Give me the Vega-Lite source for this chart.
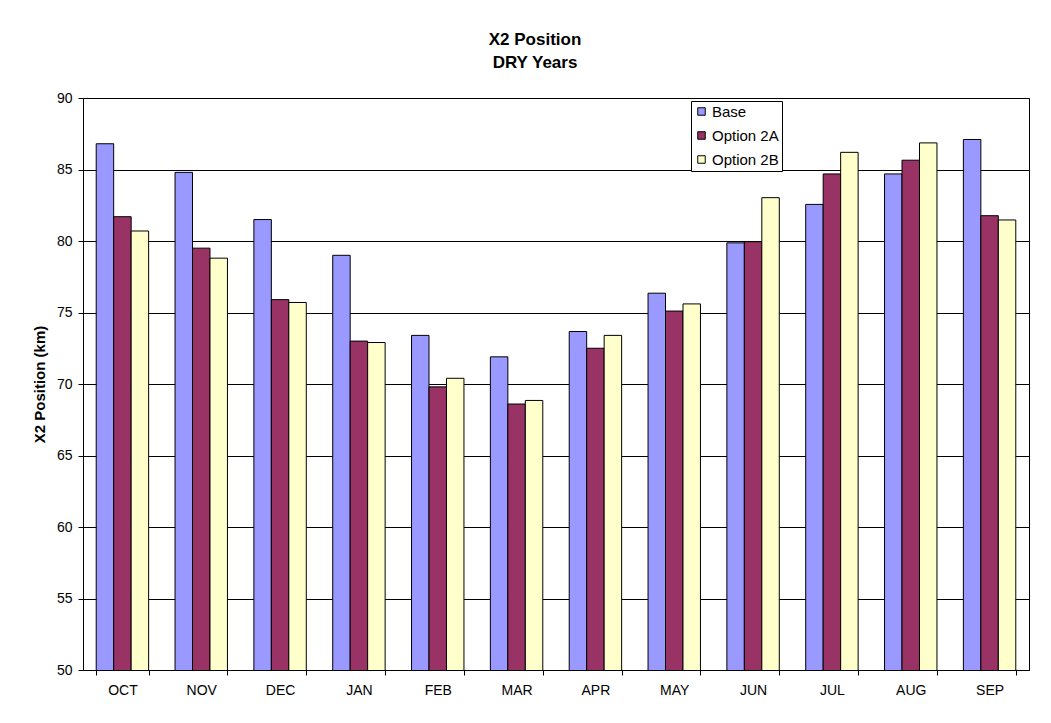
{
  "$schema": "https://vega.github.io/schema/vega-lite/v6.json",
  "autosize": {"type": "none"},
  "width": 946,
  "height": 572,
  "padding": {"left": 83, "top": 98, "right": 22, "bottom": 53},
  "background": "white",
  "title": {
    "text": ["X2 Position", "DRY Years"],
    "font": "Liberation Sans",
    "fontSize": 17,
    "fontWeight": "bold",
    "color": "black",
    "lineHeight": 23,
    "anchor": "middle",
    "frame": "group",
    "dx": -21,
    "offset": 19
  },
  "data": {
    "values": [
      {"month": "OCT", "series": "Base", "value": 86.8},
      {"month": "OCT", "series": "Option 2A", "value": 81.7},
      {"month": "OCT", "series": "Option 2B", "value": 80.7},
      {"month": "NOV", "series": "Base", "value": 84.8},
      {"month": "NOV", "series": "Option 2A", "value": 79.5},
      {"month": "NOV", "series": "Option 2B", "value": 78.8},
      {"month": "DEC", "series": "Base", "value": 81.5},
      {"month": "DEC", "series": "Option 2A", "value": 75.9},
      {"month": "DEC", "series": "Option 2B", "value": 75.7},
      {"month": "JAN", "series": "Base", "value": 79.0},
      {"month": "JAN", "series": "Option 2A", "value": 73.0},
      {"month": "JAN", "series": "Option 2B", "value": 72.9},
      {"month": "FEB", "series": "Base", "value": 73.4},
      {"month": "FEB", "series": "Option 2A", "value": 69.8},
      {"month": "FEB", "series": "Option 2B", "value": 70.4},
      {"month": "MAR", "series": "Base", "value": 71.9},
      {"month": "MAR", "series": "Option 2A", "value": 68.6},
      {"month": "MAR", "series": "Option 2B", "value": 68.85},
      {"month": "APR", "series": "Base", "value": 73.67},
      {"month": "APR", "series": "Option 2A", "value": 72.5},
      {"month": "APR", "series": "Option 2B", "value": 73.4},
      {"month": "MAY", "series": "Base", "value": 76.35},
      {"month": "MAY", "series": "Option 2A", "value": 75.1},
      {"month": "MAY", "series": "Option 2B", "value": 75.6},
      {"month": "JUN", "series": "Base", "value": 79.87},
      {"month": "JUN", "series": "Option 2A", "value": 79.95},
      {"month": "JUN", "series": "Option 2B", "value": 83.03},
      {"month": "JUL", "series": "Base", "value": 82.56},
      {"month": "JUL", "series": "Option 2A", "value": 84.69},
      {"month": "JUL", "series": "Option 2B", "value": 86.2},
      {"month": "AUG", "series": "Base", "value": 84.69},
      {"month": "AUG", "series": "Option 2A", "value": 85.65},
      {"month": "AUG", "series": "Option 2B", "value": 86.86},
      {"month": "SEP", "series": "Base", "value": 87.1},
      {"month": "SEP", "series": "Option 2A", "value": 81.77},
      {"month": "SEP", "series": "Option 2B", "value": 81.47}
    ]
  },
  "mark": {"type": "bar", "stroke": "black", "strokeWidth": 1, "clip": true},
  "encoding": {
    "x": {
      "field": "month",
      "type": "nominal",
      "sort": ["OCT","NOV","DEC","JAN","FEB","MAR","APR","MAY","JUN","JUL","AUG","SEP"],
      "scale": {"paddingInner": 0.335, "paddingOuter": 0.1675},
      "axis": {
        "title": null,
        "labelAngle": 0,
        "labelFont": "Liberation Sans",
        "labelFontSize": 14,
        "labelColor": "black",
        "labelPadding": 8,
        "tickBand": "extent",
        "tickSize": 5,
        "tickColor": "black",
        "domainColor": "black",
        "grid": false
      }
    },
    "xOffset": {
      "field": "series",
      "type": "nominal",
      "sort": ["Base","Option 2A","Option 2B"],
      "scale": {"paddingInner": 0, "paddingOuter": 0}
    },
    "y": {
      "field": "value",
      "type": "quantitative",
      "scale": {"domain": [50, 90], "zero": false, "nice": false},
      "axis": {
        "title": "X2 Position (km)",
        "titleFont": "Liberation Sans",
        "titleFontSize": 15,
        "titleFontWeight": "bold",
        "titleColor": "black",
        "titlePadding": 9,
        "values": [50,55,60,65,70,75,80,85,90],
        "labelFont": "Liberation Sans",
        "labelFontSize": 14,
        "labelColor": "black",
        "labelPadding": 6,
        "tickSize": 5,
        "tickColor": "black",
        "domainColor": "black",
        "grid": true,
        "gridColor": "black",
        "gridWidth": 1
      }
    },
    "fill": {
      "field": "series",
      "type": "nominal",
      "sort": ["Base","Option 2A","Option 2B"],
      "scale": {"domain": ["Base","Option 2A","Option 2B"], "range": ["#9999FF", "#993366", "#FFFFCC"]},
      "legend": {
        "title": null,
        "orient": "none",
        "legendX": 608,
        "legendY": 3,
        "fillColor": "white",
        "strokeColor": "black",
        "padding": 3,
        "rowPadding": 8,
        "symbolType": "square",
        "symbolSize": 56,
        "symbolStrokeColor": "black",
        "symbolStrokeWidth": 1,
        "labelFont": "Liberation Sans",
        "labelFontSize": 15,
        "labelColor": "black",
        "labelOffset": 3
      }
    }
  },
  "config": {
    "view": {"stroke": "black", "strokeWidth": 1}
  }
}
